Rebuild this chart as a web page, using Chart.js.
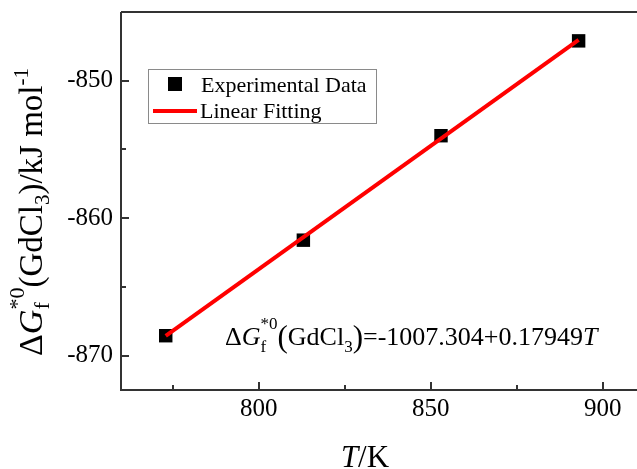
<!DOCTYPE html>
<html>
<head>
<meta charset="utf-8">
<script src="https://cdn.jsdelivr.net/npm/chart.js@4.4.0/dist/chart.umd.min.js"></script>
<style>
  html, body { margin: 0; padding: 0; background: #fff; overflow: hidden; }
  #wrap { width: 660px; height: 469px; }
</style>
</head>
<body>
<div id="wrap"><canvas id="chartGibbs" width="660" height="469"></canvas></div>
<script>
// measured points
const temperatures = [773, 813, 853, 893];
const gibbsValues = [-868.55, -861.6, -854.0, -847.1];

// fitted line end points: -1007.304 + 0.17949 T
const fitTemps = [773, 893];
const fitValues = [-868.558, -847.020];

// axis ticks
const xTicks = [800, 850, 900];
const xMinorTicks = [775, 825, 875];
const yTicks = [-870, -860, -850];
const yMinorTicks = [-865, -855];

const serif = '"Liberation Serif", "Times New Roman", serif';
const axisColor = "#333";

// draws a run of text pieces; a piece with keep:true doesn't advance x,
// so the next piece (sub/superscript) stacks on top of it
function drawParts(ctx, parts, x, y, draw = true) {
  let cx = x;
  let held = 0;
  parts.forEach((p) => {
    ctx.font = `${p.italic ? "italic " : ""}${p.size}px ${serif}`;
    const w = ctx.measureText(p.text).width;
    if (draw) ctx.fillText(p.text, cx, y + (p.dy || 0));
    if (p.keep) {
      held = w;
    } else {
      cx += Math.max(w, held);
      held = 0;
    }
  });
  return cx - x;
}

const yTitleParts = [
  { text: "Δ", size: 34 },
  { text: "G", size: 34, italic: true },
  { text: "*0", size: 22, dy: -18, keep: true },
  { text: "f", size: 22, dy: 7 },
  { text: "(GdCl", size: 33 },
  { text: "3", size: 21, dy: 7 },
  { text: ")/kJ mol", size: 33 },
  { text: "-1", size: 21, dy: -14 },
];

const equationParts = [
  { text: "Δ", size: 26 },
  { text: "G", size: 26, italic: true },
  { text: "*0", size: 17, dy: -16, keep: true },
  { text: "f", size: 17, dy: 7 },
  { text: "(", size: 31, dy: 2 },
  { text: "GdCl", size: 26 },
  { text: "3", size: 17, dy: 7 },
  { text: ")", size: 31, dy: 2 },
  { text: "=-1007.304+0.17949", size: 26 },
  { text: "T", size: 26, italic: true },
];

const framePlugin = {
  id: "frame",
  afterDraw(chart) {
    const { ctx, chartArea: a, scales } = chart;
    ctx.save();
    ctx.strokeStyle = axisColor;
    ctx.lineWidth = 2;
    ctx.beginPath();
    ctx.moveTo(a.left, a.top);
    ctx.lineTo(a.right, a.top);
    ctx.moveTo(a.left, a.top);
    ctx.lineTo(a.left, a.bottom);
    ctx.lineTo(a.right, a.bottom);
    // inward tick marks
    xTicks.forEach((v) => {
      const px = Math.round(scales.x.getPixelForValue(v));
      ctx.moveTo(px, a.bottom);
      ctx.lineTo(px, a.bottom - 8);
    });
    xMinorTicks.forEach((v) => {
      const px = Math.round(scales.x.getPixelForValue(v));
      ctx.moveTo(px, a.bottom);
      ctx.lineTo(px, a.bottom - 5);
    });
    yTicks.forEach((v) => {
      const py = Math.round(scales.y.getPixelForValue(v));
      ctx.moveTo(a.left, py);
      ctx.lineTo(a.left + 8, py);
    });
    yMinorTicks.forEach((v) => {
      const py = Math.round(scales.y.getPixelForValue(v));
      ctx.moveTo(a.left, py);
      ctx.lineTo(a.left + 5, py);
    });
    ctx.stroke();

    ctx.fillStyle = "#000";
    ctx.textBaseline = "alphabetic";
    ctx.textAlign = "left";

    // x title
    const xParts = [
      { text: "T", size: 31, italic: true },
      { text: "/K", size: 31 },
    ];
    const xw = drawParts(ctx, xParts, 0, 0, false);
    drawParts(ctx, xParts, 365 - xw / 2, 467);

    // y title, rotated
    const yw = drawParts(ctx, yTitleParts, 0, 0, false);
    ctx.save();
    ctx.translate(42, 212);
    ctx.rotate(-Math.PI / 2);
    drawParts(ctx, yTitleParts, -yw / 2, 0);
    ctx.restore();

    // fit equation
    drawParts(ctx, equationParts, 225, 345);

    // legend
    ctx.strokeStyle = "#8a8a8a";
    ctx.lineWidth = 1;
    ctx.strokeRect(148.5, 69.5, 228, 54);
    ctx.fillStyle = "#000";
    ctx.fillRect(168, 77, 14, 14);
    ctx.strokeStyle = "#ff0000";
    ctx.lineWidth = 4;
    ctx.beginPath();
    ctx.moveTo(153, 111);
    ctx.lineTo(197, 111);
    ctx.stroke();
    ctx.font = `22px ${serif}`;
    ctx.fillText("Experimental Data", 201, 92);
    ctx.fillText("Linear Fitting", 200, 118);
    ctx.restore();
  },
};

const ctx = document.getElementById("chartGibbs").getContext("2d");
new Chart(ctx, {
  type: "scatter",
  data: {
    datasets: [
      {
        type: "line",
        label: "Linear Fitting",
        data: fitTemps.map((t, i) => ({ x: t, y: fitValues[i] })),
        borderColor: "#ff0000",
        borderWidth: 4,
        pointRadius: 0,
        fill: false,
      },
      {
        label: "Experimental Data",
        data: temperatures.map((t, i) => ({ x: t, y: gibbsValues[i] })),
        pointStyle: "rect",
        pointRadius: 9.5,
        backgroundColor: "#000",
        borderWidth: 0,
      },
    ],
  },
  options: {
    responsive: false,
    animation: false,
    devicePixelRatio: 1,
    layout: {
      autoPadding: false,
      padding: { left: 0, top: 12, right: 16, bottom: 0 },
    },
    plugins: { legend: { display: false }, tooltip: { enabled: false } },
    scales: {
      x: {
        type: "linear",
        min: 760,
        max: 912,
        grid: { display: false, drawTicks: false },
        border: { display: false },
        afterBuildTicks: (s) => { s.ticks = xTicks.map((v) => ({ value: v })); },
        afterFit: (s) => {
          s.height = 79;
          s.paddingLeft = 0;
          s.paddingRight = 0;
        },
        ticks: {
          color: "#000",
          padding: 4,
          font: { family: serif, size: 25 },
        },
      },
      y: {
        type: "linear",
        min: -872.5,
        max: -845,
        grid: { display: false, drawTicks: false },
        border: { display: false },
        afterBuildTicks: (s) => { s.ticks = yTicks.map((v) => ({ value: v })); },
        afterFit: (s) => {
          s.width = 121;
          s.paddingTop = 0;
          s.paddingBottom = 0;
        },
        ticks: {
          color: "#000",
          padding: 8,
          font: { family: serif, size: 25 },
        },
      },
    },
  },
  plugins: [framePlugin],
});
</script>
</body>
</html>
